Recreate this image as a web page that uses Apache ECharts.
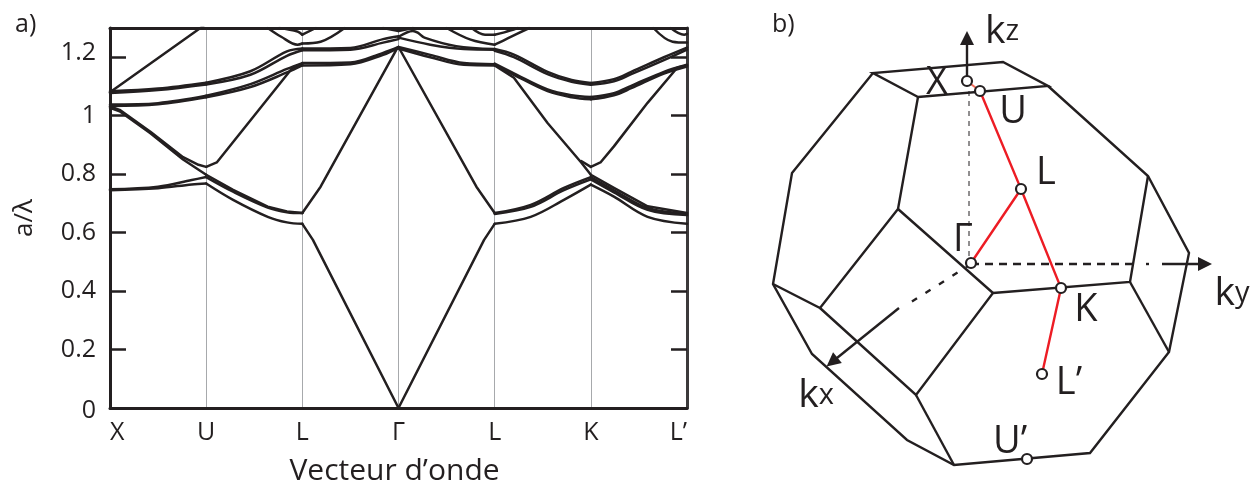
<!DOCTYPE html>
<html>
<head>
<meta charset="utf-8">
<style>html,body{margin:0;padding:0;background:#fff}#c{width:1258px;height:481px}</style>
<script src="https://cdn.jsdelivr.net/npm/echarts@6/dist/echarts.min.js"></script>
</head>
<body>
<div id="c"></div>
<script>
// ---- panel a: tick labels ----
var kLabels = ['X', 'U', 'L', 'Γ', 'L', 'K', 'L’'];
var xTitle = 'Vecteur d’onde';
var yTitle = 'a/λ';

// ---- panel a: bands [k, a/lambda] ----
var bandSteep = [[0,1.08],[0.94,1.3],[1,1.315]];
var bandB1 = [[0,1.084],[0.5,1.093],[1,1.113],[1.46,1.152],[1.84,1.22],[2,1.23],[2.5,1.232],[2.84,1.262],[3,1.272]];
var bandB2 = [[0,1.078],[0.5,1.088],[1,1.107],[1.46,1.14],[1.84,1.205],[2,1.224],[2.5,1.226],[2.84,1.25],[3,1.262]];
var bandC1 = [[0,1.038],[0.5,1.043],[1,1.068],[1.46,1.108],[1.84,1.16],[2,1.18],[2.5,1.182],[2.84,1.215],[3,1.235]];
var bandC2 = [[0,1.033],[0.5,1.039],[1,1.063],[1.46,1.098],[1.84,1.148],[2,1.172],[2.5,1.176],[2.84,1.208],[3,1.232]];
var bandD1 = [[0,1.032],[0.1,1.02],[0.42,0.945],[0.76,0.858],[0.92,0.832],[1,0.825],[1.11,0.84],[1.9,1.165],[2,1.175]];
var bandD2 = [[0,1.027],[0.1,1.015],[0.42,0.94],[0.76,0.85],[1,0.798],[1.28,0.746],[1.64,0.689],[1.84,0.672],[2,0.667]];
var bandD3 = [[0,0.748],[0.5,0.757],[0.85,0.78],[1,0.79],[1.28,0.74],[1.64,0.686],[1.84,0.67],[2,0.667]];
var bandD4 = [[0,0.745],[0.5,0.752],[0.85,0.765],[1,0.768],[1.28,0.712],[1.64,0.654],[1.84,0.635],[2,0.63]];
var acousticL = [[2,0.63],[2.11,0.575],[3,0]];
var acousticR = [[3,0],[3.89,0.575],[4,0.63]];
var opticL = [[2,0.667],[2.19,0.757],[2.99,1.233],[3,1.235]];
var opticR = [[3,1.235],[3.01,1.233],[3.81,0.757],[4,0.667]];
var topL1 = [[1.64,1.3],[1.78,1.27],[1.95,1.243],[2,1.247],[2.19,1.253],[2.44,1.3]];
var topL2 = [[1.76,1.3],[1.95,1.288],[2,1.277],[2.14,1.3]];
var topG1 = [[2.84,1.3],[3,1.29],[3.15,1.3]];
var topG2 = [[3,1.27],[3.15,1.29],[3.2,1.284],[3.27,1.267],[3.6,1.238],[4,1.228]];
var bandRB = [[3,1.267],[3.33,1.243],[3.68,1.228],[4,1.226]];
var bandRC1 = [[3,1.235],[3.33,1.208],[3.68,1.18],[4,1.176]];
var bandRC2 = [[3,1.23],[3.33,1.2],[3.68,1.174],[4,1.172]];
var topR1 = [[3.5,1.3],[3.75,1.26],[4,1.243],[4.14,1.265],[4.36,1.3]];
var topR2 = [[3.76,1.3],[3.9,1.277],[4,1.277],[4.1,1.285],[4.24,1.3]];
var topR3 = [[5.65,1.3],[5.85,1.253],[6,1.25]];
var topR4 = [[5.83,1.3],[5.97,1.277],[6,1.28]];
var bandE1 = [[4,1.228],[4.2,1.209],[4.55,1.15],[4.8,1.122],[5,1.112],[5.24,1.125],[5.42,1.15],[5.76,1.2],[6,1.233]];
var bandE2 = [[4,1.222],[4.2,1.2],[4.55,1.142],[4.8,1.116],[5,1.106],[5.24,1.118],[5.42,1.142],[5.76,1.19],[6,1.226]];
var bandF1 = [[4,1.178],[4.2,1.145],[4.55,1.09],[4.8,1.07],[5,1.064],[5.24,1.077],[5.42,1.102],[5.76,1.15],[6,1.174]];
var bandF2 = [[4,1.174],[4.2,1.14],[4.55,1.084],[4.8,1.063],[5,1.056],[5.24,1.07],[5.42,1.094],[5.76,1.144],[6,1.168]];
var bandG1 = [[4,1.172],[4.2,1.13],[4.55,0.975],[4.9,0.84],[5,0.798],[5.24,0.753],[5.59,0.69],[6,0.667]];
var bandG2 = [[4.9,0.845],[5,0.825],[5.1,0.84],[5.24,0.895],[5.59,1.044],[5.9,1.165],[6,1.172]];
var bandH1 = [[4,0.667],[4.375,0.695],[4.72,0.753],[5,0.79],[5.24,0.745],[5.59,0.684],[6,0.664]];
var bandH2 = [[4,0.664],[4.375,0.688],[4.72,0.745],[5,0.782],[5.24,0.738],[5.59,0.678],[6,0.66]];
var bandH3 = [[4,0.63],[4.375,0.654],[4.72,0.712],[5,0.764],[5.24,0.723],[5.59,0.654],[6,0.63]];
var straightBands = [bandSteep,bandD1,bandD2,acousticL,acousticR,opticL,opticR,bandG1,bandG2];
var curvedBands = [bandB1,bandB2,bandC1,bandC2,bandD3,bandD4,
  topL1,topL2,topG1,topG2,bandRB,bandRC1,bandRC2,topR1,topR2,topR3,topR4,
  bandE1,bandE2,bandF1,bandF2,bandH1,bandH2,bandH3];

// ---- panel b: Brillouin-zone outline, in diagram units ----
var edgesTop = [[[918,97],[873,73],[1003,62],[1048,86],[918,97]]];
var edgesOuter = [[[873,73],[792,173],[773,284],[812,354],[907,440],[954,465],[1090,453],[1169,352],[1189,253],[1148,176],[1048,86]]];
var edgesInner = [
  [[918,97],[898,209],[820,308],[773,284]],
  [[898,209],[993,293],[916,395],[820,308]],
  [[993,293],[1130,282],[1148,176]],
  [[1130,282],[1169,352]],
  [[916,395],[954,465]]
];
var pathRed = [[[980,91],[1021,189],[971,263]],[[1021,189],[1061,288],[1042,374]]];
var pathOrange = [[967,81],[980,91]];
var dashKz = [[969,91],[969,263]];
var dashKy = [[971,264],[1135,264]];
var dotKy = [[1146,264],[1149,264]];
var dashKx = [[971,264],[905,306]];
var arrowKz = [[967,80],[967,38]];
var arrowKy = [[1162,264],[1205,264]];
var arrowKx = [[899,308],[832,362]];
var pointsB = [[967,81],[980,91],[1021,189],[971,263],[1061,288],[1042,374],[1027,459]];
var labelsB = [[937,83,'X'],[1013,112,'U'],[1046,173,'L'],[963,240,'Γ'],[1086,310,'K'],[1069,383,'L’'],[1010,442,'U’']];
var axisLabelsB = [[1002,32,'k','z'],[1232,294,'k','y'],[816,396,'k','x']];
var panelLabels = [[15,25,'a)'],[772,25,'b)']];

var FONT = '"Open Sans"';
var INK = '#231f20';
var series = [];
// bands are drawn one Brillouin-zone leg at a time, so they keep a sharp kink at each symmetry point
function legs(b) {
  var out = [], cur = [b[0]];
  for (var i = 1; i < b.length; i++) {
    cur.push(b[i]);
    if (b[i][0] % 1 === 0 && i < b.length - 1) { out.push(cur); cur = [b[i]]; }
  }
  out.push(cur);
  return out;
}
function addBands(list, smooth) {
  list.forEach(function (b) {
    legs(b).forEach(function (leg) {
      series.push({type:'line', xAxisIndex:0, yAxisIndex:0, data:leg, symbol:'none', smooth:smooth, clip:true,
        lineStyle:{color:INK, width:2.5, cap:'round', join:'round'}, silent:true, z:3});
    });
  });
}
addBands(straightBands, false);
addBands(curvedBands, 0.35);
function poly(d, color, w, type, z) {
  series.push({type:'line', xAxisIndex:2, yAxisIndex:2, data:d, symbol:'none', clip:false, silent:true, z:z||3,
    lineStyle:{color:color, width:w, type:type||'solid', cap:'butt', join:'miter'}});
}
edgesTop.concat(edgesOuter, edgesInner).forEach(function (e) { poly(e, INK, 2.4); });
pathRed.forEach(function (e) { poly(e, '#ed1c24', 2.4, 'solid', 4); });
poly(pathOrange, '#f26c5a', 2, 'solid', 4);
poly(dashKz, INK, 1, [5,5]);
poly(dashKy, INK, 2.4, [8,6]);
poly(dotKy, INK, 2.4);
poly(dashKx, INK, 2.4, [6,10]);
series.push({type:'lines', coordinateSystem:'cartesian2d', xAxisIndex:2, yAxisIndex:2, silent:true, z:5,
  symbol:['none','triangle'], symbolSize:14, polyline:false,
  lineStyle:{color:INK, width:2.4, opacity:1, curveness:0},
  data:[{coords:arrowKz},{coords:arrowKy},{coords:arrowKx}]});
series.push({type:'scatter', xAxisIndex:2, yAxisIndex:2, data:pointsB, symbol:'circle', symbolSize:10, silent:true, z:6,
  itemStyle:{color:'#fff', borderColor:INK, borderWidth:2.2, opacity:1}});
series.push({type:'scatter', xAxisIndex:2, yAxisIndex:2, data:labelsB, symbolSize:0, silent:true, z:7,
  itemStyle:{opacity:1},
  label:{show:true, position:'inside', align:'center', verticalAlign:'middle', color:INK, opacity:1, fontFamily:FONT, fontSize:38,
    formatter:function (p) { return p.value[2]; }}});
series.push({type:'scatter', xAxisIndex:2, yAxisIndex:2, data:axisLabelsB, symbolSize:0, silent:true, z:7,
  itemStyle:{opacity:1},
  label:{show:true, position:'inside', align:'center', verticalAlign:'middle', color:INK, opacity:1, fontFamily:FONT,
    formatter:function (p) { return '{k|' + p.value[2] + '}{s|' + p.value[3] + '}'; },
    rich:{k:{fontSize:39, fontFamily:FONT, color:INK}, s:{fontSize:29, fontFamily:FONT, color:INK}}}});
series.push({type:'scatter', xAxisIndex:2, yAxisIndex:2, data:panelLabels, symbolSize:0, silent:true, z:7,
  itemStyle:{opacity:1},
  label:{show:true, position:'inside', align:'left', verticalAlign:'middle', color:INK, opacity:1, fontFamily:FONT, fontSize:25,
    formatter:function (p) { return p.value[2]; }}});

var chart = echarts.init(document.getElementById('c'), null, {renderer:'canvas'});
var frame = {show:true, onZero:false, lineStyle:{color:INK, width:3}};
var tickFont = {fontSize:25, fontFamily:FONT, color:INK};
chart.setOption({
  animation:false,
  backgroundColor:'#fff',
  textStyle:{fontFamily:FONT},
  grid:[
    {left:110, right:571, top:28, height:380, containLabel:false, outerBoundsMode:'none'},
    {left:0, top:0, width:1258, height:481, containLabel:false, outerBoundsMode:'none'}
  ],
  xAxis:[
    {gridIndex:0, type:'value', min:0, max:6, interval:1, position:'bottom',
      axisLine:frame, axisTick:{show:false},
      splitLine:{show:true, lineStyle:{color:'#a7a9ac', width:1}},
      axisLabel:{color:INK, fontFamily:FONT, fontSize:25, margin:12, alignMinLabel:'left', alignMaxLabel:'right',
        formatter:function (v) { return kLabels[v]; }},
      name:xTitle, nameLocation:'middle', nameGap:48,
      nameTextStyle:{color:INK, fontFamily:FONT, fontSize:30, padding:[0,8,0,0]}},
    {gridIndex:0, type:'value', min:0, max:6, position:'top', axisLine:frame,
      axisTick:{show:false}, axisLabel:{show:false}, splitLine:{show:false}},
    {gridIndex:1, type:'value', min:0, max:1258, show:false}
  ],
  yAxis:[
    {gridIndex:0, type:'value', min:0, max:1.3, interval:0.2, position:'left',
      axisLine:frame, axisTick:{show:true, inside:true, length:16, lineStyle:{color:INK, width:2.5}},
      splitLine:{show:false},
      axisLabel:{color:INK, fontFamily:FONT, fontSize:25, margin:14, showMaxLabel:false,
        formatter:function (v) {
          if (v === 0) return '{low|0}';
          if (v > 1.1) return '{up|' + v + '}';
          return String(v);
        },
        rich:{
          up:Object.assign({padding:[0,0,8,0]}, tickFont),
          low:Object.assign({padding:[6,0,0,0]}, tickFont)
        }},
      name:yTitle, nameLocation:'middle', nameGap:64, nameRotate:90,
      nameTextStyle:{color:INK, fontFamily:FONT, fontSize:26, padding:[0,0,8,0]}},
    {gridIndex:0, type:'value', min:0, max:1.3, interval:0.2, position:'right',
      axisLine:{show:true, onZero:false, lineStyle:{color:'#3c3a3b', width:3}},
      axisTick:{show:true, inside:true, length:16, lineStyle:{color:INK, width:2.5}},
      axisLabel:{show:false}, splitLine:{show:false}},
    {gridIndex:1, type:'value', min:0, max:481, inverse:true, show:false}
  ],
  series:series
});
</script>
</body>
</html>
